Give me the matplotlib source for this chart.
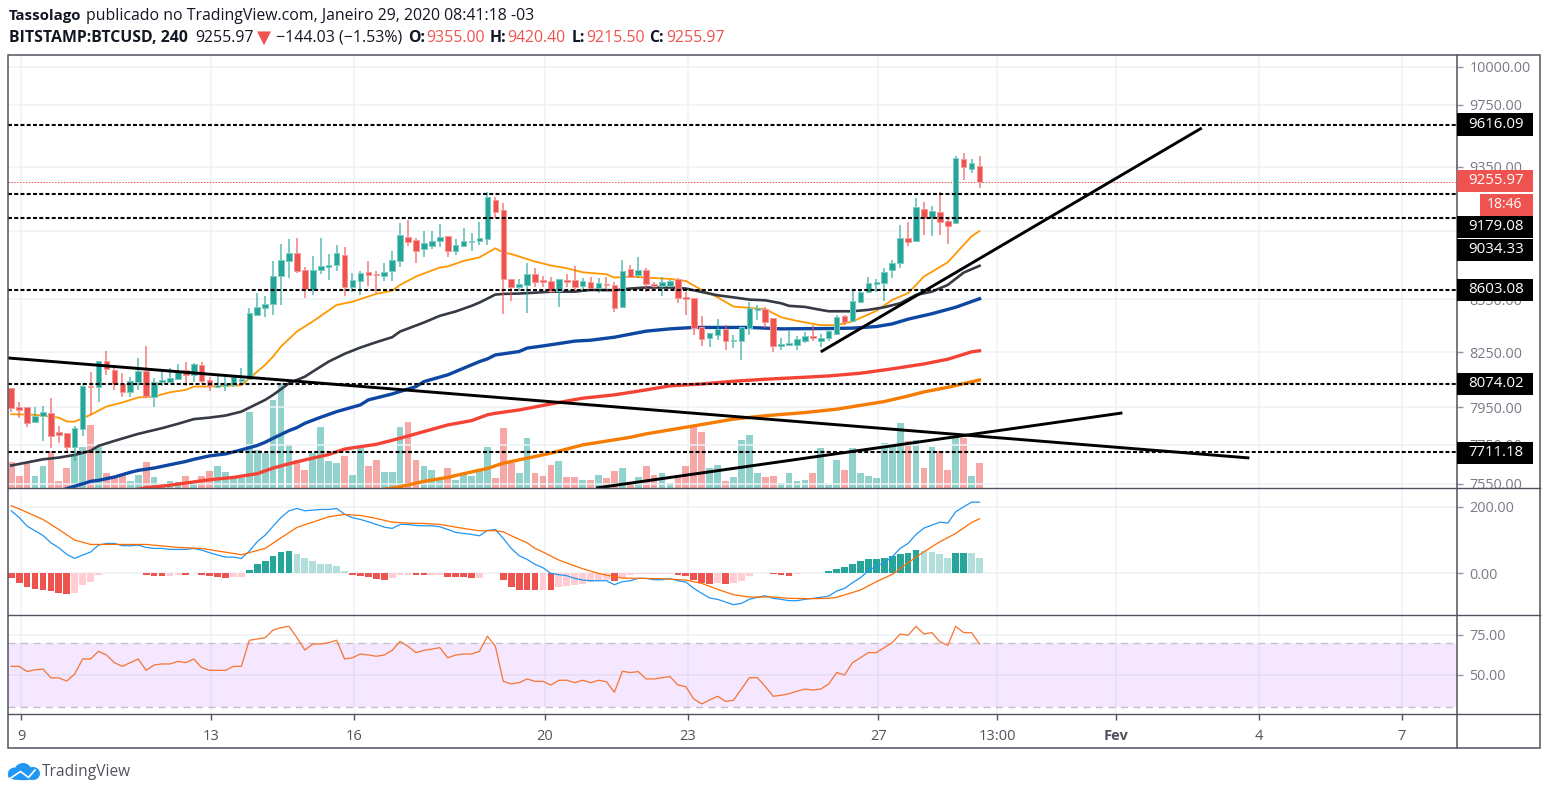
import matplotlib
matplotlib.use("Agg")
import matplotlib.pyplot as plt
from matplotlib.patches import Rectangle, Ellipse
from matplotlib.ticker import FixedLocator, NullLocator, FixedFormatter
import numpy as np

# ---------- data ----------
opens = [8052,7950,7950,7871,7900,7916,7817,7810,7741,7833,
         8065,8058,8200,8154,8074,8032,8086,8145,8003,8086,
         8086,8101,8152,8125,8181,8097,8057,8065,8072,8093,
         8101,8462,8500,8521,8688,8776,8819,8723,8602,8723,
         8739,8752,8811,8621,8658,8707,8697,8688,8717,8776,
         8915,8899,8843,8865,8895,8921,8835,8865,8887,8893,
         8903,9142,9081,8670,8621,8635,8699,8662,8654,8600,
         8662,8664,8629,8652,8614,8641,8633,8508,8729,8691,
         8721,8641,8627,8627,8666,8561,8556,8389,8329,8344,
         8383,8310,8315,8385,8491,8495,8440,8282,8293,8289,
         8315,8340,8314,8332,8351,8455,8426,8533,8594,8637,
         8643,8719,8760,8909,8893,9089,9030,9067,9012,9000,
         9397,9333,9355.00]
highs = [8052,7977,7950,7950,7957,7998,7850,7810,7850,8083,
         8139,8200,8258,8180,8134,8115,8216,8285,8106,8152,
         8161,8183,8196,8189,8198,8115,8125,8112,8125,8161,
         8498,8585,8569,8776,8873,8903,8909,8737,8803,8909,
         8813,8869,8855,8705,8717,8774,8717,8760,8835,9000,
         9020,8909,8953,8953,8994,8921,8903,8969,8939,9006,
         9189,9158,9122,8670,8666,8760,8731,8686,8682,8670,
         8695,8745,8672,8682,8672,8678,8652,8780,8750,8795,
         8731,8652,8682,8662,8672,8594,8556,8455,8357,8436,
         8404,8344,8394,8536,8517,8504,8440,8332,8371,8338,
         8364,8404,8353,8381,8461,8461,8604,8604,8678,8666,
         8731,8780,8990,9006,9153,9128,9105,9189,9036,9417,
         9435,9397,9420.40]
lows = [7926,7891,7843,7864,7773,7733,7759,7707,7664,7797,
        7909,7977,8125,8043,8003,8003,8043,7998,7950,8066,
        8079,8097,8066,8084,8079,8039,8052,8039,8061,8070,
        8097,8455,8451,8462,8517,8672,8705,8556,8575,8697,
        8662,8717,8571,8594,8575,8627,8585,8656,8656,8737,
        8865,8760,8795,8847,8859,8795,8809,8859,8833,8869,
        8869,9030,8464,8542,8598,8470,8619,8619,8585,8504,
        8619,8600,8608,8600,8585,8610,8476,8504,8678,8672,
        8594,8614,8571,8620,8527,8457,8344,8287,8278,8319,
        8263,8276,8207,8344,8432,8385,8250,8263,8287,8263,
        8300,8312,8278,8315,8347,8400,8419,8527,8585,8590,
        8542,8672,8731,8865,8885,8931,8923,8929,8875,8995,
        9266,9308,9215.50]
closes = [7944,7936,7864,7904,7923,7799,7803,7741,7838,8065,
          8058,8200,8156,8074,8032,8090,8145,8012,8084,8099,
          8106,8143,8123,8183,8093,8065,8072,8075,8112,8103,
          8470,8504,8525,8683,8780,8819,8717,8608,8723,8745,
          8750,8819,8621,8662,8705,8691,8689,8707,8780,8931,
          8887,8835,8879,8891,8917,8835,8869,8891,8891,8909,
          9158,9069,8666,8620,8641,8699,8650,8652,8600,8670,
          8652,8620,8654,8614,8647,8631,8498,8713,8682,8721,
          8637,8627,8648,8654,8556,8550,8385,8323,8355,8381,
          8310,8319,8389,8498,8498,8419,8282,8298,8304,8325,
          8338,8331,8332,8368,8447,8419,8538,8590,8643,8650,
          8711,8764,8909,8887,9097,9030,9075,9006,8986,9403,
          9346,9371,9255.97]
volumes = [78,37,75,37,67,110,22,60,102,123,
           190,122,45,32,40,22,40,78,33,10,
           22,18,37,20,37,52,67,48,32,30,
           228,115,105,265,315,130,85,55,105,183,
           82,75,97,40,120,67,85,48,48,183,
           198,85,67,55,25,60,25,45,37,55,
           123,30,180,75,45,150,45,37,70,82,
           33,33,25,25,40,30,52,60,15,33,
           67,40,45,15,32,67,185,168,60,70,
           22,33,145,160,45,33,37,15,45,22,
           25,45,120,10,85,55,120,45,37,30,
           135,125,195,140,145,60,123,112,55,155,
           150,37,75]

ma_thin_idx = [0,3,6,7,8,10,12,14,16,18,20,22,23,25,27,29,30,32,33,34,36,38,41,43,46,48,49,51,54,55,57,59,61,
               62,63,66,68,70,72,75,76,78,80,83,85,87,89,91,93,95,97,99,102,104,106,109,111,113,115,118,121,122]
ma_thin = [7912,7909,7894,7873,7873,7909,7953,7975,8002,8007,8030,8043,8061,8061,8065,8068,8106,8180,8226,8282,
           8366,8423,8517,8536,8581,8600,8633,8682,8735,8741,8774,8795,8849,
           8823,8815,8770,8747,8731,8707,8695,8676,8682,8676,8668,8656,8604,8561,8508,8500,8493,8447,8426,8402,
           8402,8423,8483,8546,8585,8682,8766,8921,8953]
ma_dark_idx = [0,4,6,8,10,11,13,16,19,21,23,25,27,29,31,32,33,34,35,37,38,40,42,44,46,48,49,52,54,56,58,59,61,
               62,64,66,68,71,73,76,78,80,83,85,87,89,91,93,95,97,98,100,102,103,106,108,110,112,114,116,118,120,122]
ma_dark = [7643,7675,7684,7698,7719,7745,7771,7808,7838,7861,7886,7894,7905,7926,7968,7989,8016,8047,8079,8115,
           8143,8198,8241,8276,8306,8334,8366,8417,8455,8480,8512,8531,8577,
           8581,8583,8588,8594,8594,8604,8602,8612,8618,8618,8612,8592,8573,8561,8548,8544,8527,8512,8506,8489,
           8481,8481,8489,8504,8527,8575,8594,8633,8705,8745]
ma_blue_idx = [7,8,9,10,11,13,15,16,18,20,22,23,25,27,29,31,32,33,35,36,37,39,41,44,45,48,51,52,55,59,60,61,62,
               64,65,67,71,73,76,80,83,86,93,97,103,106,109,111,113,116,119,122]
ma_blue = [7525,7537,7549,7562,7567,7584,7608,7618,7630,7647,7664,7675,7693,7703,7724,7747,7764,7785,7825,7841,
           7864,7896,7926,7962,7989,8021,8061,8088,8125,8198,8213,8235,8241,
           8254,8273,8285,8312,8317,8334,8368,8381,8389,8389,8381,8383,8385,8394,8409,8436,8467,8504,8553]
ma_red_idx = [16,17,20,23,25,28,31,33,35,37,40,42,44,46,49,52,55,58,60,61,64,69,72,76,80,83,87,91,95,100,103,107,
              111,115,118,121,122]
ma_red = [7522,7529,7542,7559,7570,7582,7601,7630,7652,7672,7700,7728,7741,7753,7785,7820,7855,7878,7909,7917,
          7935,7975,7998,8016,8043,8065,8075,8090,8101,8112,8119,8134,8158,8185,8211,8252,8258]
ma_orange_idx = [47,48,50,52,55,57,60,62,65,68,72,78,80,86,91,95,100,104,110,113,115,118,122]
ma_orange = [7522,7527,7543,7562,7582,7601,7628,7655,7681,7707,7750,7790,7808,7850,7886,7904,7921,7939,7980,8010,
             8032,8057,8097]

macd_line = [188,168,142,128,114,92,77,57,45,55,64,85,90,90,83,83,85,78,75,75,72,72,72,75,70,62,55,49,49,45,
             67,95,115,142,168,188,195,188,190,192,192,195,178,167,162,155,147,139,135,147,147,144,143,143,140,
             132,123,120,117,113,129,132,105,75,53,42,27,17,0,-4,-7,-15,-20,-22,-22,-22,-34,-25,-22,-15,-15,-19,
             -19,-16,-22,-26,-45,-60,-74,-78,-86,-94,-90,-78,-72,-67,-75,-78,-82,-82,-78,-75,-72,-68,-53,-45,-28,
             -13,8,22,32,50,75,90,117,136,145,154,151,185,200,214,214]
signal_idx = [0,1,4,6,8,10,12,17,21,24,29,32,34,36,38,40,42,44,46,48,50,52,54,57,59,61,62,63,65,66,67,69,70,72,74,
              76,77,82,85,87,89,91,93,96,98,101,103,104,107,109,111,113,115,117,119,121,122]
signal_line = [203,194,162,132,100,87,87,87,78,75,56,75,107,138,154,170,177,174,165,154,151,150,147,135,128,128,
               125,113,92,75,64,40,31,14,0,-10,-14,-16,-20,-30,-48,-64,-71,-71,-75,-76,-75,-72,-50,-25,-3,32,65,95,
               120,153,164]
macd_hist = [-13,-28,-40,-46,-50,-54,-58,-62,-58,-35,-25,-5,2,1,0,0,2,-5,-7,-8.5,-8,-5,-5.5,0,-4,-7,-11,-15,-11,-11,
             11,29,37,52,63,67,59,45,38,29,27,22,7,-5,-8,-11,-16,-20,-15,-4,-4,-5,-5.5,-4,-3.5,-11,-11.5,-12,-15,-14,
             0,2,-20,-40,-49,-50,-51,-50,-51,-42,-38,-35,-31,-26,-21,-21,-24,-15,-5,-2,-1,-1,-1,-1,-4,-8,-20,-30,-31,-29,
             -31,-30,-24,-8,2,2.5,-3,-3.5,-8,-3,0,2,2.5,7,14,18,28,36,43,43.5,47,52,58,61,69,68.5,65,58,47,62,62.5,
             61.5,47]
rsi_values = [55.2,55.2,52,53,53.5,48,48,46,50.4,59.8,59.8,64.6,62.3,57.5,55.2,57.5,59.8,52.7,56,56.7,56.7,58.3,57.5,
              59.8,54.4,52.7,52.7,52.7,55.2,55.2,71.5,72.3,73.1,77.9,79.4,80.2,73.1,65.4,69.2,69.2,70,71.5,59.8,
              60.6,62.9,62.3,61.5,62.3,65.2,70.8,67.7,63.8,65.2,66,66.9,60.6,62.3,62.9,62.9,64.6,74,67.7,45.8,44.2,
              45,47.3,45.8,45.8,43.5,46.5,46.5,45,46.5,45,46.5,45.6,39,52.1,51.3,51.9,47.3,47.3,48.1,48.8,43.5,42.5,
              34.8,31.7,34.2,36.5,33.3,34,41,48.1,48.1,42.7,36.5,37.1,38.1,39.6,41,40.4,41,44.2,51.3,49.8,57.5,60.6,
              63.8,63.8,66.9,70,75.4,74.6,80.2,75.4,76.3,70.6,68.3,80.2,76.3,76.3,69.2]

levels = [9616.09, 9179.08, 9034.33, 8603.08, 8074.02, 7711.18]
last_price = 9255.97
trend_a = ([-0.4, 156.0], [8218, 7682])
trend_b = ([73.7, 140.0], [7528, 7919])
trend_c = ([102.0, 150.0], [8252, 9597])

price_ticks = [10000, 9750, 9350, 8950, 8550, 8250, 7950, 7750, 7550]
macd_ticks = [200, 0]
rsi_ticks = [75, 50]
day_offsets = [0, 4, 7, 11, 14, 18, 20.5, 23, 26, 29]
day_labels = ["9", "13", "16", "20", "23", "27", "13:00", "Fev", "4", "7"]

# ---------- style ----------
GREEN, RED = "#26a69a", "#ef5350"
LGREEN, LRED = "#b2dfdb", "#ffcdd2"
FRAME = "#50535e"
GRID = "#edf2f6"
LABEL = "#787b86"
FONT = ["Open Sans", "DejaVu Sans"]
plt.rcParams["font.family"] = FONT

W, H = 1548, 795
fig = plt.figure(figsize=(W / 100, H / 100), dpi=100, facecolor="white")


def ax_px(x0, y0, x1, y1, **kw):
    return fig.add_axes([x0 / W, 1 - y1 / H, (x1 - x0) / W, (y1 - y0) / H], **kw)


STEP = 7.937
ORIGIN = 11.2
xlim = ((8 - ORIGIN) / STEP, (1457 - ORIGIN) / STEP)
idx = np.arange(len(closes))
day_pos = [1.235 + 6 * d for d in day_offsets]

ax_v = ax_px(8, 55, 1457, 488)
ax = ax_px(8, 55, 1457, 488)
ax_m = ax_px(8, 488, 1457, 615)
ax_r = ax_px(8, 615, 1457, 714)

for a in (ax_v, ax, ax_m, ax_r):
    a.set_xlim(*xlim)
    for s in a.spines.values():
        s.set_visible(False)
    a.xaxis.set_major_locator(FixedLocator(day_pos))
    a.xaxis.set_major_formatter(FixedFormatter([""] * len(day_pos)))
    a.xaxis.set_minor_locator(NullLocator())
    a.tick_params(axis="x", length=0)
    a.grid(True, color=GRID, lw=1.1)
    a.set_axisbelow(True)

# volume pane
ax_v.set_ylim(0, 1299)
ax_v.set_yticks([])
ax_v.grid(True, axis="x", color=GRID, lw=1.1)
ax_v.grid(False, axis="y")
up = np.array(closes) >= np.array(opens)
ax_v.bar(idx, volumes, width=0.85, color=[GREEN if u else RED for u in up], alpha=0.5, lw=0)

# price pane
ax.patch.set_alpha(0)
ax.set_yscale("log")
ax.set_ylim(7528, 10081.2)
ax.grid(False, axis="x")
ax.yaxis.tick_right()
ax.yaxis.set_major_locator(FixedLocator(price_ticks))
ax.yaxis.set_major_formatter(FixedFormatter([f"{t:.2f}" for t in price_ticks]))
ax.yaxis.set_minor_locator(NullLocator())
ax.tick_params(axis="y", length=4, width=1, color="#9598a1", labelcolor=LABEL, labelsize=10.4, pad=5)

ax.plot(ma_thin_idx, ma_thin, color="#ff9800", lw=1.3, zorder=3, solid_joinstyle="round")
ax.plot(ma_dark_idx, ma_dark, color="#363a45", lw=1.9, zorder=3, solid_joinstyle="round")
ax.plot(ma_blue_idx, ma_blue, color="#0d47a1", lw=2.4, zorder=3, solid_joinstyle="round")
ax.plot(ma_red_idx, ma_red, color="#f44336", lw=2.4, zorder=3, solid_joinstyle="round")
ax.plot(ma_orange_idx, ma_orange, color="#f57c00", lw=2.4, zorder=3, solid_joinstyle="round")

colors = [GREEN if u else RED for u in up]
ax.vlines(idx, lows, highs, colors=colors, lw=1.1, alpha=0.75, zorder=4)
body_lo = np.minimum(opens, closes)
body_hi = np.maximum(opens, closes)
ax.bar(idx, body_hi - body_lo, bottom=body_lo, width=0.7, color=colors, lw=0.7,
       edgecolor=[(0.49, 0.80, 0.76, 1) if u else (0.97, 0.60, 0.60, 1) for u in up], zorder=5)

for lv in levels:
    ax.axhline(lv, color="black", lw=1.5, ls=(0, (1.9, 1.1)), zorder=6)
ax.axhline(last_price, color=RED, lw=0.7, ls=(0, (1.5, 1.5)), zorder=2)
for tx, ty in (trend_a, trend_b, trend_c):
    ax.plot(tx, ty, color="black", lw=2.1, zorder=7, solid_capstyle="butt")

# MACD pane
ax_m.set_ylim(-125, 256.5)
ax_m.yaxis.tick_right()
ax_m.set_yticks(macd_ticks, [f"{t:.2f}" for t in macd_ticks])
ax_m.tick_params(axis="y", length=4, width=1, color="#9598a1", labelcolor=LABEL, labelsize=10.4, pad=5)
hist_colors = []
prev = 0
for v in macd_hist:
    if v >= 0:
        hist_colors.append(GREEN if v >= prev else LGREEN)
    else:
        hist_colors.append(RED if v < prev else LRED)
    prev = v
ax_m.bar(idx, macd_hist, width=0.85, color=hist_colors, lw=0, zorder=2)
ax_m.plot(idx, macd_line, color="#2196f3", lw=0.9, zorder=3)
ax_m.plot(signal_idx, signal_line, color="#ff6d00", lw=0.9, zorder=3)

# RSI pane
ax_r.set_ylim(25.4, 87.3)
ax_r.yaxis.tick_right()
ax_r.set_yticks(rsi_ticks, [f"{t:.2f}" for t in rsi_ticks])
ax_r.tick_params(axis="y", length=4, width=1, color="#9598a1", labelcolor=LABEL, labelsize=10.4, pad=5)
ax_r.axhspan(30, 70, color="#9915ff", alpha=0.1, lw=0, zorder=1)
ax_r.axhline(70, color="#c5c0cb", lw=1, ls=(0, (5, 4)), zorder=2)
ax_r.axhline(30, color="#c5b9cf", lw=1, ls=(0, (5, 4)), zorder=2)
ax_r.plot(idx, rsi_values, color="#f6793a", lw=0.95, zorder=3)

# time axis
ax_r.set_xticks(day_pos)
ax_r.set_xticklabels(day_labels)
ax_r.tick_params(axis="x", length=4, width=1, color=FRAME, labelcolor=FRAME, labelsize=10.5, pad=7)
for lab, name in zip(ax_r.get_xticklabels(), day_labels):
    if name == "Fev":
        lab.set_fontweight("bold")

# overlay: frame, labels and header
ov = fig.add_axes([0, 0, 1, 1], zorder=20)
ov.set_xlim(0, W)
ov.set_ylim(H, 0)
ov.axis("off")
ov.patch.set_alpha(0)
ov.add_patch(Rectangle((8, 55), 1532, 693, fill=False, ec=FRAME, lw=1.1))
for y in (488, 615, 714):
    ov.plot([8, 1540], [y, y], color=FRAME, lw=1.0)
ov.plot([1457, 1457], [55, 748], color=FRAME, lw=1.1)

boxes = [("9616.09", 113, 136, "black"), ("9255.97", 170, 192, RED), ("9179.08", 216, 238, "black"),
         ("9034.33", 239, 261, "black"), ("8603.08", 279, 301, "black"), ("8074.02", 373, 395, "black"),
         ("7711.18", 442, 464, "black")]
for txt, y0, y1, c in boxes:
    ov.add_patch(Rectangle((1457, y0), 76, y1 - y0, fc=c, ec="none", zorder=3))
    ov.text(1468, (y0 + y1) / 2 - 0.5, txt, color="white", fontsize=10.8, fontweight=500,
            ha="left", va="center", zorder=4)
ov.add_patch(Rectangle((1480, 194), 53, 22, fc=RED, ec="none", zorder=3))
ov.text(1504.5, 204.5, "18:46", color="white", fontsize=10, ha="center", va="center", zorder=4)

renderer = fig.canvas.get_renderer()


def fit(x0, x1, yc, s, color="#131722", weight="normal", family=None):
    t = ov.text(x0, yc, s, color=color, fontweight=weight, fontsize=10, ha="left", va="center",
                family=family or FONT)
    w = t.get_window_extent(renderer).width
    t.set_fontsize(10 * (x1 - x0) / w)
    return t


fit(9, 81, 16, "Tassolago", weight="bold")
fit(86, 534, 16, "publicado no TradingView.com, Janeiro 29, 2020 08:41:18 -03")
fit(9, 188, 38, "BITSTAMP:BTCUSD, 240", weight="bold")
base = fit(195, 254, 38, "9255.97").get_fontsize()
fit(257, 271, 38, "\u25bc", color=RED, family=["DejaVu Sans"])
fit(276, 403, 38, "\u2212144.03 (\u22121.53%)")
for lab, xl0, val, xv0 in [("O:", 408, "9355.00", 426), ("H:", 490, "9420.40", 507),
                           ("L:", 572, "9215.50", 586), ("C:", 649, "9255.97", 666)]:
    ov.text(xv0, 38, val, color=RED, fontsize=base, ha="left", va="center")
    ov.text(xl0, 38, lab, color="#131722", fontweight="bold", fontsize=base, ha="left", va="center")

# logo
BLUE = "#2196f3"
for cx, cy, rx, ry in [(15, 773.5, 7, 6), (23, 771, 8.5, 8), (33, 773.5, 7, 6.5), (23, 776, 15, 4.2)]:
    ov.add_patch(Ellipse((cx, cy), 2 * rx, 2 * ry, fc=BLUE, ec="none", zorder=3))
ov.plot([10, 20.5, 28.5, 35], [778.5, 771.5, 777.5, 770], color="white", lw=1.2, zorder=4)
fit(42, 131, 771.5, "TradingView", color="#50535e")

fig.savefig("out.png", dpi=100, facecolor="white")
